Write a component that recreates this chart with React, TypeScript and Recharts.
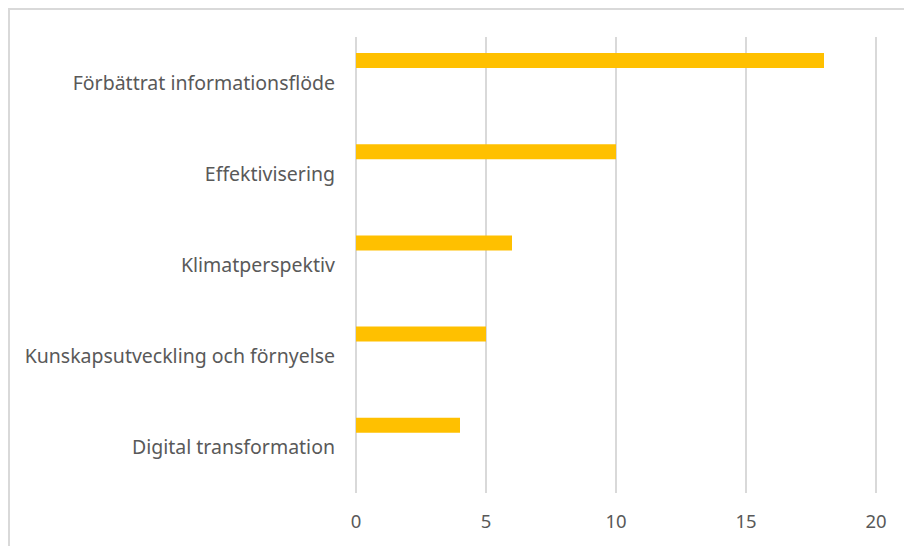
import { BarChart, Bar, XAxis, YAxis, CartesianGrid } from "recharts";

// Categories top to bottom, with the count for each
const categories = [
  "Förbättrat informationsflöde",
  "Effektivisering",
  "Klimatperspektiv",
  "Kunskapsutveckling och förnyelse",
  "Digital transformation",
];
const counts = [18, 10, 6, 5, 4];
const xTicks = [0, 5, 10, 15, 20];

const data = categories.map((name, i) => ({ name, antal: counts[i], tom: null }));

const FONT = "'Noto Sans', 'Open Sans', sans-serif";
const GRID = "#d9d9d9";
const TEXT = "#595959";

export default function App() {
  return (
    <div style={{ position: "absolute", left: 0, top: 0, width: 904, height: 546, background: "#fff", overflow: "hidden" }}>
      {/* outer chart frame, only top and left edges show */}
      <div
        style={{
          position: "absolute",
          left: 8,
          top: 8,
          width: 920,
          height: 560,
          borderTop: `2px solid ${GRID}`,
          borderLeft: `2px solid ${GRID}`,
        }}
      />
      <BarChart
        width={904}
        height={546}
        data={data}
        layout="vertical"
        margin={{ top: 37, right: 28, left: 0, bottom: 0 }}
        barSize={15}
        barGap={30}
        style={{ position: "absolute", left: 0, top: 0, fontFamily: FONT }}
      >
        <CartesianGrid horizontal={false} stroke={GRID} strokeWidth={2} />
        <XAxis
          type="number"
          domain={[0, 20]}
          ticks={xTicks}
          axisLine={false}
          tickLine={false}
          tickSize={0}
          tickMargin={22}
          height={53}
          tick={{ fill: TEXT, fontSize: 18.5 }}
        />
        <YAxis
          type="category"
          dataKey="name"
          width={356}
          axisLine={false}
          tickLine={false}
          tickSize={0}
          tickMargin={21}
          tick={{ fill: TEXT, fontSize: 19.5 }}
        />
        <Bar dataKey="antal" fill="#ffc000" isAnimationActive={false} />
        <Bar dataKey="tom" fill="#ffc000" isAnimationActive={false} />
      </BarChart>
    </div>
  );
}
